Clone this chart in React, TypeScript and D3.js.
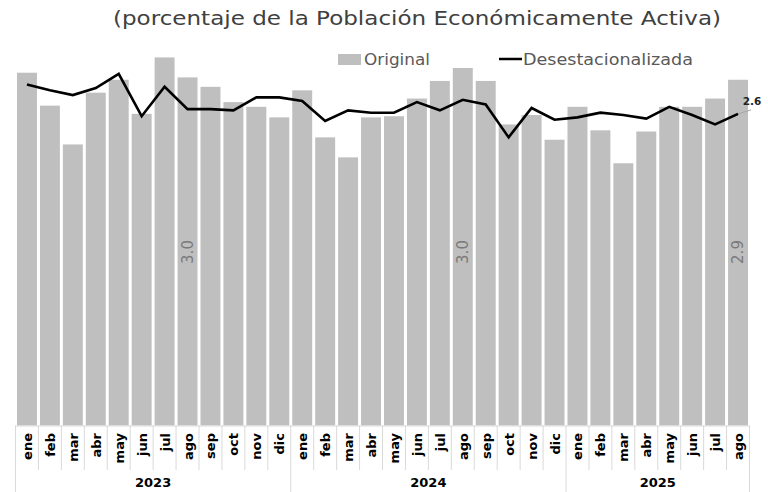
import * as d3 from "d3";

const months = ["ene", "feb", "mar", "abr", "may", "jun", "jul", "ago", "sep", "oct", "nov", "dic"];
const years = ["2023", "2024", "2025"];
const monthsPerYear = [12, 12, 8];

// tasa de desocupación, serie original (barras)
const original = [
  3.0, 2.72, 2.39, 2.83, 2.94, 2.65, 3.13, 2.96, 2.88, 2.75, 2.71, 2.62,
  2.85, 2.45, 2.28, 2.62, 2.63, 2.78, 2.93, 3.04, 2.93, 2.56, 2.64, 2.43,
  2.71, 2.51, 2.23, 2.5, 2.71, 2.71, 2.78, 2.94,
];

// serie desestacionalizada (línea)
const desest = [
  2.9, 2.85, 2.81, 2.87, 2.99, 2.63, 2.88, 2.69, 2.69, 2.68, 2.79, 2.79,
  2.76, 2.59, 2.68, 2.66, 2.66, 2.75, 2.68, 2.77, 2.73, 2.45, 2.7, 2.6,
  2.62, 2.66, 2.64, 2.61, 2.71, 2.64, 2.56, 2.65,
];

// etiquetas de valor sobre barras (agosto de cada año)
const barLabels = [
  { index: 7, text: "3.0" },
  { index: 19, text: "3.0" },
  { index: 31, text: "2.9" },
];
const lineLabel = { index: 31, text: "2.6" };

const W = 768;
const H = 492;
const left = 15.5;
const right = 749.5;
const base = 425.5;

const categories = monthsPerYear.flatMap((n, y) => months.slice(0, n).map((m) => `${m}-${years[y]}`));

export default function App() {
  const x = d3.scaleBand<string>().domain(categories).range([left, right]).paddingInner(0.13).paddingOuter(0.065);
  const y = d3.scaleLinear().domain([0, 3.5]).range([base, base - 3.5 * 117.6]);
  const step = x.step();
  const cx = (i: number) => (x(categories[i]) ?? 0) + x.bandwidth() / 2;

  const line = d3
    .line<number>()
    .x((_, i) => cx(i))
    .y((d) => y(d));

  const yearStarts: number[] = [];
  monthsPerYear.reduce((acc, n) => {
    yearStarts.push(acc);
    return acc + n;
  }, 0);

  const lastX = cx(lineLabel.index);
  const lastY = y(desest[lineLabel.index]);

  return (
    <svg width={W} height={H} style={{ position: "absolute", left: 0, top: 0, background: "#fff" }}>
      <text
        x={417}
        y={25}
        textAnchor="middle"
        fontFamily="'DejaVu Sans', sans-serif"
        fontSize={19}
        fill="#404040"
        textLength={608}
        lengthAdjust="spacingAndGlyphs"
      >
        (porcentaje de la Población Económicamente Activa)
      </text>

      {/* leyenda */}
      <rect x={338} y={54} width={23} height={11} fill="#bfbfbf" />
      <text x={364} y={65} fontFamily="'DejaVu Sans', sans-serif" fontSize={15} fill="#595959" textLength={66} lengthAdjust="spacingAndGlyphs">
        Original
      </text>
      <line x1={499} x2={522} y1={59} y2={59} stroke="#000" strokeWidth={2.5} />
      <text x={523} y={65} fontFamily="'DejaVu Sans', sans-serif" fontSize={15} fill="#595959" textLength={170} lengthAdjust="spacingAndGlyphs">
        Desestacionalizada
      </text>

      {original.map((v, i) => (
        <rect key={categories[i]} x={x(categories[i])} y={y(v)} width={x.bandwidth()} height={base - y(v)} fill="#bfbfbf" />
      ))}

      {barLabels.map((l) => (
        <text
          key={l.index}
          transform={`translate(${cx(l.index) + 5},${252}) rotate(-90)`}
          textAnchor="middle"
          fontFamily="'DejaVu Sans', sans-serif"
          fontSize={15}
          fill="#7a7a7a"
        >
          {l.text}
        </text>
      ))}

      <path d={line(desest) ?? ""} fill="none" stroke="#000" strokeWidth={2.6} strokeLinejoin="miter" />

      <line x1={lastX} y1={lastY} x2={lastX + 13} y2={lastY - 4} stroke="#a6a6a6" strokeWidth={1} />
      <text x={752} y={105} textAnchor="middle" fontFamily="'DejaVu Sans', sans-serif" fontSize={10.5} fontWeight="bold" fill="#222">
        {lineLabel.text}
      </text>

      {/* eje x */}
      <line x1={left} x2={right} y1={base + 0.5} y2={base + 0.5} stroke="#d9d9d9" />
      {d3.range(categories.length + 1).map((i) => {
        const isYear = i === 0 || i === categories.length || yearStarts.includes(i);
        const xx = left + i * step;
        return <line key={`s${i}`} x1={xx} x2={xx} y1={base} y2={isYear ? H : 470} stroke="#d9d9d9" strokeWidth={1} />;
      })}
      {categories.map((c, i) => (
        <text
          key={`t${c}`}
          transform={`translate(${cx(i) + 5},${433}) rotate(-90)`}
          textAnchor="end"
          fontFamily="'DejaVu Sans', sans-serif"
          fontSize={13}
          fontWeight="bold"
          fill="#000"
        >
          {c.split("-")[0]}
        </text>
      ))}
      {years.map((yr, k) => {
        const s = yearStarts[k];
        const mid = left + (s + monthsPerYear[k] / 2) * step;
        return (
          <text key={yr} x={mid} y={487} textAnchor="middle" fontFamily="'DejaVu Sans', sans-serif" fontSize={13} fontWeight="bold" fill="#000">
            {yr}
          </text>
        );
      })}
    </svg>
  );
}
